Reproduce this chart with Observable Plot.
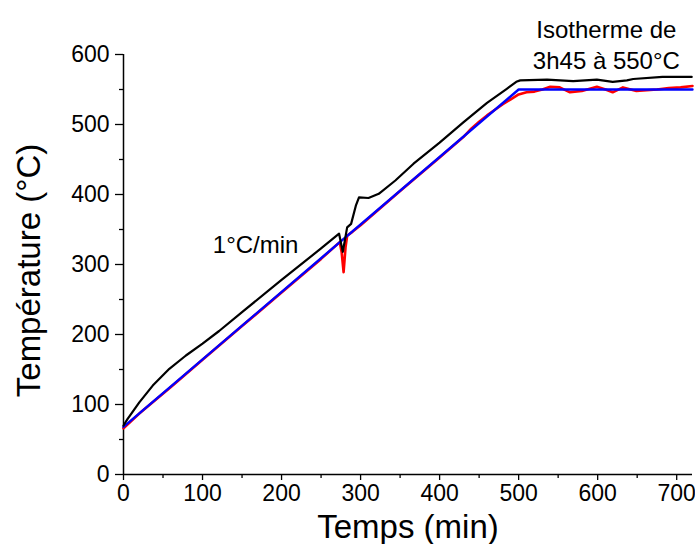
<!DOCTYPE html>
<html>
<head>
<meta charset="utf-8">
<script src="https://cdn.jsdelivr.net/npm/d3@7"></script>
<script src="https://cdn.jsdelivr.net/npm/@observablehq/plot@0.6"></script>
<style>
  html, body { margin: 0; padding: 0; background: #fff; }
  svg { font-family: "Liberation Sans", Arial, sans-serif; }
</style>
</head>
<body>
<div id="chart"></div>
<script>
// Consigne (blue)
const timeBlue = [0, 500, 720];
const tempBlue = [68, 550, 550];

// Red series
const timeRed = [0, 20, 60, 100, 150, 200, 250, 273.6, 276, 278.5, 281, 283, 290, 300, 350, 400, 430, 440, 450, 460, 470, 480, 490, 500, 510, 520, 530, 540, 552, 565, 580, 599, 610, 619, 632, 649, 662, 675, 690, 705, 720];
const tempRed = [66, 87, 125, 164, 212, 260, 308, 332, 318, 289, 325, 341, 347, 356, 405, 453, 482, 494, 504, 513, 521, 529, 536, 543, 546, 547, 550, 554, 553, 546, 548, 554, 550, 546, 553, 548, 549, 550, 552, 553, 555];

// Black series
const timeBlack = [0, 5, 20, 37, 58, 79, 100, 121, 150, 200, 250, 272.8, 277.5, 283, 288, 294, 298, 310, 323, 344, 367, 400, 430, 460, 485, 497, 502, 536, 569, 599, 619, 637, 645, 682, 719];
const tempBlack = [70, 79, 103, 127, 151, 170, 187, 205, 232, 278, 323, 344, 318, 353, 358, 384, 396, 395, 401, 420, 444, 474, 503, 531, 551, 561, 563, 564, 562, 564, 561, 563, 565, 568, 568];

// Ticks
const xTicks = [0, 100, 200, 300, 400, 500, 600, 700];
const xMinor = [50, 150, 250, 350, 450, 550, 650];
const yTicks = [0, 100, 200, 300, 400, 500, 600];
const yMinor = [50, 150, 250, 350, 450, 550];

// Labels
const xLabel = "Temps (min)";
const yLabel = "Température (°C)";
const notes = [
  {t: 113, T: 317, text: "1°C/min", line: "bottom"},
  {t: 611, T: 655, text: "Isotherme de\n3h45 à 550°C", line: "top"}
];

const chart = Plot.plot({
  width: 695,
  height: 544,
  marginLeft: 123,
  marginRight: 3,
  marginTop: 54,
  marginBottom: 70,
  x: {domain: [0, 720]},
  y: {domain: [0, 600]},
  style: {fontFamily: "'Liberation Sans', Arial, sans-serif", color: "#000", background: "#fff"},
  marks: [
    Plot.axisX({ticks: xMinor, tickSize: 4, text: null, label: null, strokeWidth: 1.3}),
    Plot.axisX({ticks: xTicks, tickSize: 6, tickPadding: 4, fontSize: 23, label: null, strokeWidth: 1.3}),
    Plot.axisY({ticks: yMinor, tickSize: 4, text: null, label: null, strokeWidth: 1.3}),
    Plot.axisY({ticks: yTicks, tickSize: 8, tickPadding: 6, fontSize: 23, label: null, strokeWidth: 1.3}),
    Plot.ruleY([0], {strokeWidth: 1.5}),
    Plot.ruleX([0], {strokeWidth: 1.5}),
    Plot.line(timeRed, {x: timeRed, y: tempRed, stroke: "#ff0000", strokeWidth: 2.6}),
    Plot.line(timeBlue, {x: timeBlue, y: tempBlue, stroke: "#0000ff", strokeWidth: 2.4}),
    Plot.line(timeBlack, {x: timeBlack, y: tempBlack, stroke: "#000000", strokeWidth: 2.2}),
    Plot.text(notes, {x: "t", y: "T", text: "text", textAnchor: "middle", fontSize: 24, lineHeight: 1.3,
      lineAnchor: "top", filter: d => d.line === "top"}),
    Plot.text(notes, {x: "t", y: "T", text: "text", textAnchor: "start", fontSize: 24,
      lineAnchor: "bottom", filter: d => d.line === "bottom"}),
    Plot.text([xLabel], {frameAnchor: "bottom", textAnchor: "middle", lineAnchor: "bottom", dy: 63, fontSize: 33}),
    Plot.text([yLabel], {frameAnchor: "left", textAnchor: "middle", rotate: -90, lineAnchor: "bottom", dx: -84, dy: 6, fontSize: 33})
  ]
});
document.getElementById("chart").appendChild(chart);
</script>
</body>
</html>
